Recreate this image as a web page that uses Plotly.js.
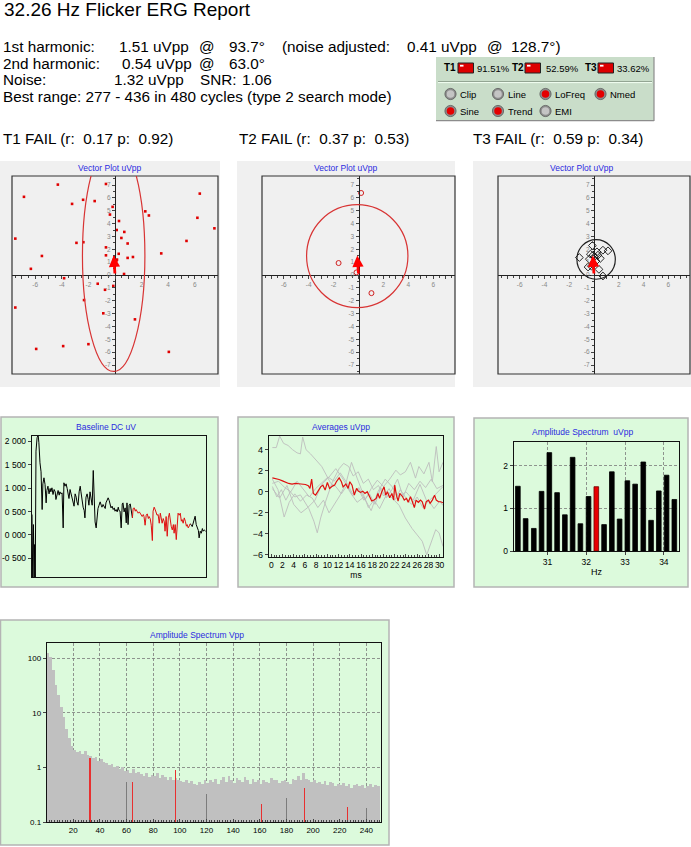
<!DOCTYPE html>
<html><head><meta charset="utf-8">
<script src="https://cdn.plot.ly/plotly-3.0.1.min.js"></script>
<style>html,body{margin:0;padding:0;background:#fff}#chart{width:691px;height:847px}</style>
</head><body><div id="chart"></div>
<script>
// ================= DATA =================
// report text
const reportTitle = '32.26 Hz Flicker ERG Report';
const harmonic1 = ['1st harmonic:', '1.51 uVpp', '@', '93.7°', '(noise adjusted:', '0.41 uVpp', '@', '128.7°)'];
const harmonic2 = ['2nd harmonic:', '0.54 uVpp', '@', '63.0°'];
const noiseRow  = ['Noise:', '1.32 uVpp', 'SNR:', '1.06'];
const bestRange = 'Best range: 277 - 436 in 480 cycles (type 2 search mode)';
const testRows  = ['T1 FAIL (r:\u00a0 0.17 p:\u00a0 0.92)', 'T2 FAIL (r:\u00a0 0.37 p:\u00a0 0.53)', 'T3 FAIL (r:\u00a0 0.59 p:\u00a0 0.34)'];

// status panel
const statusTests = ['T1', 'T2', 'T3'];
const statusPct = ['91.51%', '52.59%', '33.62%'];
const flagNames = ['Clip', 'Line', 'LoFreq', 'Nmed', 'Sine', 'Trend', 'EMI'];
const flagOn    = [false, false, true, true, true, true, false];

// vector plots (uVpp)
const meanVector = [-0.097, 1.507];
const t1X = [-4.3,-6.85,-3.23,-2.4,-1.53,-0.68,-0.18,-0.38,2.28,2.55,6.38,6.2,7.48,0.3,0.13,0.7,0.48,0.95,5.38,3.48,-7.5,-2.9,-2.38,-0.68,-0.68,0.28,0.95,1.35,-5.5,-6.33,-3.83,0.68,-1.3,-0.75,-0.13,-2.33,-0.88,1.5,-7.5,-5.93,-3.9,-2.0,4.05,0.1,-0.05,0.15];
const t1Y = [7.03,6.08,5.53,5.85,5.75,7.08,5.3,4.7,4.95,4.63,6.33,4.45,3.63,4.2,3.5,3.35,2.88,2.45,2.65,1.68,2.83,2.5,2.55,2.15,1.53,1.65,1.33,1.4,1.48,0.48,-0.25,0.08,-0.68,-1.15,-0.85,-1.95,-2.98,-3.45,-2.53,-5.75,-5.53,-5.38,-5.98,1.1,1.4,1.2];
const t1Ellipse = [-0.1, 1.5, 2.35, 9.0];   // cx, cy, rx, ry
const t2X = [0.21, -1.6, 1.04, -0.16];
const t2Y = [6.38, 0.93, -1.41, 0.2];
const t2Ellipse = [-0.1, 1.47, 4.07, 4.0];
const t3X = [-0.13,-0.29,0.24,0.72,1.13,-1.18,-0.38,0.03,0.32,0.51,0.16,-0.48,-0.21,0.4,-0.03,0.72,-0.08];
const t3Y = [2.29,1.62,1.8,1.93,1.88,1.36,1.23,1.41,1.54,1.29,1.08,0.62,0.69,0.44,0.85,-0.08,1.54];
const t3Ellipse = [0.17, 1.21, 1.55, 1.54];
const vecTickVals = [-7,-6,-5,-4,-3,-2,-1,0,1,2,3,4,5,6,7];
const vecXText = ['','-6','','-4','','-2','','','','2','','4','','6',''];
const vecYText = ['-7','-6','-5','-4','-3','-2','-1','0','1','2','3','4','5','6','7'];

// baseline DC (uV) per cycle
const baseCycle = [0,2,4,6,7,9,11,14,17,19,22,25,28,30,33,36,39,41,44,47,50,52,55,58,61,64,66,69,72,75,77,80,83,86,88,91,94,97,99,102,105,108,111,113,116,119,122,124,127,130,133,135,138,141,144,146,149,152,155,157,160,163,166,169,171,174,177,180,182,185,188,191,193,196,199,202,204,207,210,213,216,218,221,224,227,229,232,235,238,240,243,246,249,251,254,257,260,262,265,268,271,274,277,
 279,282,285,287,290,293,296,298,301,304,307,309,312,315,318,321,323,326,329,332,334,337,340,343,345,348,351,354,356,359,362,365,367,370,373,376,379,381,384,387,390,392,395,398,401,403,406,409,412,414,417,420,423,426,428,431,434,436,
 439,442,445,448,450,453,456,459,461,464,467,470,472,475,479];
const baseUV = [436,-950,221,-950,-207,-950,1792,2078,2135,1971,1542,1349,543,1092,1221,1078,685,950,1042,878,992,921,1007,864,971,921,757,878,950,850,921,878,900,150,1114,1042,1092,992,900,778,971,864,757,664,614,878,807,707,635,921,1042,921,735,593,521,364,807,878,757,635,921,735,635,1378,828,278,150,400,564,635,707,635,593,650,614,564,685,757,793,735,664,578,614,543,578,507,543,493,593,521,507,150,664,685,493,578,257,685,221,635,664,521,364,
 564,578,507,543,507,464,493,464,436,393,436,393,207,421,450,350,393,350,207,-121,507,593,536,464,421,436,250,464,364,250,350,278,79,393,-29,364,464,293,186,107,221,36,221,-100,364,464,421,464,293,328,250,364,293,186,221,150,193,236,
 221,178,278,364,400,221,136,93,-64,79,36,136,79,107,79];
const bestRangeCycles = [277, 436];
const baseTickVals = [2000, 1500, 1000, 500, 0, -500];
const baseTickText = ['2 000', '1 500', '1 000', '0 500', '0 000', '-0 500'];

// averages (uVpp vs ms)
const avgMs = [0.2,0.8,1.4,2.0,2.6,3.1,3.7,4.3,4.9,5.5,6.1,6.6,6.9,7.2,7.5,7.9,8.4,8.8,9.2,9.6,10.0,10.4,10.9,11.3,11.6,12.1,12.5,12.8,13.3,13.7,14.0,14.4,14.8,15.2,15.5,15.9,16.3,16.7,17.1,17.5,17.9,18.3,18.7,19.0,19.3,19.7,20.1,20.4,20.7,21.1,21.5,21.8,22.0,22.3,22.6,22.9,23.4,23.7,24.1,24.4,24.8,25.1,25.5,25.8,26.2,26.6,26.9,27.3,27.6,28.0,28.3,28.7,29.1,29.4,29.8,30.2,30.6];
const avgUV = [1.32,1.26,1.17,1.04,0.88,0.79,0.73,0.79,0.76,0.73,0.69,0.57,0.32,1.2,-0.16,-0.32,0.06,0.47,0.63,0.16,0.88,0.32,0.54,0.63,0.95,1.32,0.95,0.47,0.73,0.32,0.95,0.63,-0.32,0.32,0.06,-0.06,0.06,-0.16,0,-0.47,-0.88,-0.79,-0.63,-0.16,-0.63,0,0.47,-0.32,0,-0.57,-0.16,-0.79,0.63,-0.32,-0.88,-0.16,-0.47,-0.79,-0.63,-1.0,-0.47,-0.88,-1.51,-0.79,-1.0,-0.79,-0.95,-1.64,-0.95,-0.79,-1.1,-0.79,-0.32,-0.79,-0.95,-0.95,-1.05];
const subAMs = [0.2,0.9,1.5,2.2,3.0,3.8,4.6,5.2,5.6,6.2,7.0,8.0,9.0,9.8,10.6,11.5,12.5,13.5,14.5,15.5,16.5,17.5,18.5,19.5,20.5,21.5,22.5,23.5,24.5,25.5,26.5,27.5,28.5,29.5,30.6];
const subAUV = [4.2,4.2,5.3,4.6,4.4,4.0,3.7,3.6,5.2,4.0,3.6,3.0,2.4,1.6,0.8,0.5,-0.2,0.6,-0.4,0.3,-0.8,-0.2,-1.2,0.4,-0.6,0.2,1.2,-0.5,0.8,0.2,1.0,0.4,1.2,0.3,0.6];
const subBMs = [0.2,1.0,1.8,2.6,3.4,4.2,5.2,6.0,6.7,7.6,8.2,8.8,9.7,10.9,12.1,12.9,13.8,14.6,15.5,16.4,17.3,18.2,19.1,20.0,21.0,22.0,23.0,24.0,25.0,26.0,27.0,28.0,29.0,30.0,30.6];
const subBUV = [0.5,-0.5,0.2,-0.8,0.0,-0.5,-0.3,-1.0,-1.6,-2.8,-3.9,-2.5,-0.9,0.95,2.2,2.7,2.4,1.5,1.9,0.8,1.2,0.2,0.6,-0.4,0.3,-0.8,0.2,-0.6,-1.2,-0.5,-1.5,-0.8,-1.6,-0.9,-1.3];
const subCMs = [0.2,1.2,2.3,3.2,4.2,5.2,6.3,7.3,8.3,9.3,10.3,11.3,12.3,13.3,14.3,15.3,16.3,17.3,18.3,19.3,20.3,21.0,21.9,22.8,23.9,25.1,26.0,26.9,27.7,28.4,29.3,29.9,30.6];
const subCUV = [1.2,0.2,-2.4,-1.0,-0.2,-0.9,-0.3,-0.6,-1.5,-0.8,-2.0,-1.2,-0.3,0.8,2.8,1.3,-0.2,-1.5,-0.8,-1.6,-0.5,-0.3,-0.8,-1.3,-2.5,-3.5,-4.1,-4.7,-6.0,-5.0,-3.6,-3.9,-5.2];
const subDMs = [0.2,1.3,2.4,3.5,4.6,5.7,6.8,7.9,9.0,10.1,11.2,12.3,13.4,14.5,15.6,16.7,17.8,18.9,20.0,21.1,22.2,23.0,23.9,24.8,25.7,26.3,27.2,28.1,28.7,29.4,29.9,30.6];
const subDUV = [0.8,1.0,0.4,0.0,1.0,0.2,-0.5,0.3,0.9,1.4,1.0,1.8,0.9,-0.2,0.4,-0.8,0.3,1.1,0.5,1.2,2.05,1.6,1.9,2.8,1.3,2.4,1.7,2.8,0.95,4.3,1.9,2.8];
const subEMs = [0.2,1.5,2.8,4.0,5.3,6.5,7.8,9.0,10.3,11.5,12.8,14.0,15.3,16.5,17.8,19.0,20.3,21.5,22.8,24.0,25.3,26.5,27.8,29.0,30.6];
const subEUV = [0.3,-0.6,0.6,-1.2,-2.0,-1.5,-0.8,0.7,1.4,2.2,1.2,0.0,-1.0,-0.5,-1.8,0.0,1.2,0.5,-0.5,0.0,-0.8,0.7,-1.0,-0.4,0.5];

// amplitude spectrum around the stimulus (uVpp)
const nearHz = [30.24,30.44,30.65,30.85,31.05,31.25,31.45,31.65,31.85,32.06,32.26,32.46,32.66,32.86,33.06,33.26,33.47,33.67,33.87,34.07,34.27];
const nearUVpp = [1.52,0.76,0.53,1.40,2.31,1.37,0.85,2.20,0.64,1.28,1.51,0.62,1.86,0.75,1.65,1.57,2.09,0.72,1.41,1.78,1.21];
const stimulusHz = 32.26;

// full amplitude spectrum (Vpp), 2 Hz bins starting at 1 Hz
const fullStartHz = 1, fullBinHz = 2;
const fullVpp = [125,105,60,33,21,13,8.5,5.0,3.4,2.5,2.1,1.9,2.0,1.8,2.0,1.7,1.6,1.5,1.55,1.3,1.45,1.25,1.2,1.1,1.15,1.0,1.05,0.92,1.0,0.85,0.9,0.8,0.95,0.78,0.82,0.75,0.7,0.8,0.68,0.72,0.7,0.78,0.64,0.72,0.66,0.6,0.68,0.58,0.65,0.6,0.57,0.55,0.6,0.52,0.56,0.5,0.48,0.55,0.5,0.58,0.52,0.6,0.55,0.62,0.5,0.58,0.66,0.55,0.7,0.6,0.52,0.65,0.58,0.55,0.68,0.6,0.5,0.62,0.55,0.58,0.5,0.6,0.55,0.52,0.65,0.58,0.6,0.52,0.56,0.6,0.55,0.5,0.62,0.58,0.7,0.6,0.78,0.62,0.58,0.55,0.6,0.52,0.55,0.5,0.56,0.48,0.55,0.52,0.45,0.5,0.48,0.52,0.45,0.5,0.42,0.48,0.5,0.45,0.48,0.42,0.46,0.5,0.44,0.48,0.45];
const harmonicHz = [32.26, 64.52, 96.78, 161.3, 193.56, 225.82];
const harmonicVpp = [1.51, 0.54, 0.9, 0.21, 0.42, 0.19];
const mainsHz = [60, 120, 180, 240];
const mainsVpp = [0.54, 0.33, 0.27, 0.18];
const fullTickVals = [20,40,60,80,100,120,140,160,180,200,220,240];
const logTickVals = [0.1, 1, 10, 100];
const logTickText = ['0.1', '1', '10', '100'];

// ================= LAYOUT HELPERS =================
const W = 691, H = 847;
const fx = x => x / W;
const fy = y => 1 - y / H;
const FONT = 'Arial, "Liberation Sans", sans-serif';
const BLUE = '#2b2be0';
const GREEN = '#dcfadc';
const zeroPos = (dom, rng) => dom[0] + (0 - rng[0]) / (rng[1] - rng[0]) * (dom[1] - dom[0]);

const shapes = [];
const annotations = [];
function prect(x0, y0, x1, y1, fill, line, lw, layer) {
  shapes.push({type:'rect', xref:'paper', yref:'paper', x0:fx(x0), x1:fx(x1), y0:fy(y1), y1:fy(y0),
    fillcolor: fill, line:{color: line || 'rgba(0,0,0,0)', width: lw || 0}, layer: layer || 'below'});
}
function pcircle(cx, cy, r, fill, line, lw) {
  shapes.push({type:'circle', xref:'paper', yref:'paper', x0:fx(cx-r), x1:fx(cx+r), y0:fy(cy+r), y1:fy(cy-r),
    fillcolor: fill, line:{color: line || 'rgba(0,0,0,0)', width: lw || 0}, layer:'above'});
}
function pline(x0, y0, x1, y1, color, w) {
  shapes.push({type:'line', xref:'paper', yref:'paper', x0:fx(x0), x1:fx(x1), y0:fy(y0), y1:fy(y1), line:{color, width:w}, layer:'above'});
}
function txt(text, x, y, size, opts) {
  annotations.push(Object.assign({xref:'paper', yref:'paper', x:fx(x), y:fy(y), xanchor:'left', yanchor:'middle',
    text, showarrow:false, borderpad:0, font:{family:FONT, size, color:'#000'}}, opts || {}));
}
function ctitle(text, x, y, size) {
  txt(text, x, y, size || 8.5, {xanchor:'center', font:{family:FONT, size: size || 8.5, color: BLUE}});
}

// ----- header text -----
txt(reportTitle, 3, 9, 19);
const hs = 15.3;
[1.5, 118, 198, 228, 280.5, 406, 486, 510].forEach((x, i) => txt(harmonic1[i], x, 47, hs));
[1.5, 121, 198, 228.5].forEach((x, i) => txt(harmonic2[i], x, 63.5, hs));
[1.5, 113, 199, 241].forEach((x, i) => txt(noiseRow[i], x, 80, hs));
txt(bestRange, 1.5, 96.5, hs);
[1.5, 237.5, 472].forEach((x, i) => txt(testRows[i], x, 138.5, hs));

// ----- status panel -----
prect(436, 57, 654, 120, '#c9ddc9');
pline(654, 57, 654, 121, '#8c8c8c', 1.2);
pline(436, 120.6, 654, 120.6, '#8c8c8c', 1.2);
pline(438, 81.5, 652, 81.5, '#93a593', 1);
pline(438, 82.6, 652, 82.6, '#f2fff2', 1);
const testLabelX = [443, 510.5, 584];
const buttonX = [458, 525, 598];
const pctX = [476, 544.5, 616];
statusTests.forEach((t, i) => {
  txt('<b>' + t + '</b>', testLabelX[i], 68, 10);
  prect(buttonX[i], 63, buttonX[i] + 15.5, 73, '#dd0000', '#222', 1, 'above');
  prect(buttonX[i] + 2, 64.8, buttonX[i] + 5.5, 66.6, '#ffffff', null, 0, 'above');
  txt(statusPct[i], pctX[i], 68.5, 9.5);
});
const ledX = [450.5, 498, 545.5, 600.5, 450.5, 498, 545.5];
const ledY = [94, 94, 94, 94, 111, 111, 111];
flagNames.forEach((n, i) => {
  pcircle(ledX[i], ledY[i], 5.6, '#8d8d8d', '#5a5a5a', 0.8);
  pcircle(ledX[i], ledY[i], 3.8, flagOn[i] ? '#e40000' : '#c4c4c4', null, 0);
  txt(n, ledX[i] + 8.5, ledY[i] + 0.5, 9.5);
});

// ----- panels -----
[[0, 220], [237, 455], [473, 691]].forEach(p => prect(p[0], 161, p[1], 387, '#f0f0f0'));
prect(1, 417, 218, 587, GREEN, '#b4b4b4', 1.5);
prect(238, 417, 454, 587, GREEN, '#b4b4b4', 1.5);
prect(474, 418, 688, 587, GREEN, '#b4b4b4', 1.5);
prect(0.5, 620, 389, 845, GREEN, '#b4b4b4', 1.5);

ctitle('Vector Plot uVpp', 109.5, 168);
ctitle('Vector Plot uVpp', 346, 168);
ctitle('Vector Plot uVpp', 582, 168);
ctitle('Baseline DC uV', 106, 427);
ctitle('Averages uVpp', 341, 427);
ctitle('Amplitude Spectrum\u00a0 uVpp', 582, 432);
ctitle('Amplitude Spectrum Vpp', 196.5, 635);

// ================= AXES =================
const vecXR = [-7.75, 7.75], vecYR = [-7.7, 7.7];
const vecYD = [fy(374), fy(176)];
const vecXD = [[fx(12), fx(218)], [fx(262), fx(455)], [fx(498), fx(690)]];
const layout = {
  width: W, height: H, margin:{l:0, r:0, t:0, b:0},
  paper_bgcolor:'#ffffff', plot_bgcolor:'rgba(0,0,0,0)',
  showlegend:false, barmode:'overlay', bargap:0,
  font:{family:FONT, color:'#000'},
  shapes, annotations
};
const ellipses = [t1Ellipse, t2Ellipse, t3Ellipse];
const ellColors = ['#d83434', '#d83434', '#202020'];
['', '2', '3'].forEach((s, i) => {
  layout['xaxis' + s] = {domain: vecXD[i], range: vecXR, anchor:'free', position: zeroPos(vecYD, vecYR),
    showline:true, linecolor:'#222', linewidth:1, zeroline:false, showgrid:false,
    tickmode:'array', tickvals: vecTickVals, ticktext: vecXText, ticks:'outside', ticklen:3, tickcolor:'#444', tickwidth:1,
    minor:{dtick:0.5, tick0:0, ticks:'outside', ticklen:2, tickcolor:'#444'},
    tickfont:{size:6.5, color:'#888'}, fixedrange:true};
  layout['yaxis' + s] = {domain: vecYD, range: vecYR, anchor:'free', position: zeroPos(vecXD[i], vecXR),
    showline:true, linecolor:'#222', linewidth:1, zeroline:false, showgrid:false,
    tickmode:'array', tickvals: vecTickVals, ticktext: vecYText, ticks:'outside', ticklen:3, tickcolor:'#444', tickwidth:1,
    minor:{dtick:0.5, tick0:0, ticks:'outside', ticklen:2, tickcolor:'#444'},
    tickfont:{size:6.5, color:'#888'}, fixedrange:true};
  const xr = 'x' + s, yr = 'y' + s, e = ellipses[i];
  shapes.push({type:'rect', xref: xr + ' domain', yref: yr + ' domain', x0:0, x1:1, y0:0, y1:1, line:{color:'#333', width:1.2}, layer:'above'});
  shapes.push({type:'circle', xref: xr, yref: yr, x0: e[0] - e[2], x1: e[0] + e[2], y0: e[1] - e[3], y1: e[1] + e[3],
    line:{color: ellColors[i], width:1.2}, layer:'above'});
  annotations.push({xref: xr, yref: yr, axref: xr, ayref: yr, x: meanVector[0], y: meanVector[1], ax: 0, ay: 0,
    text:'', showarrow:true, arrowhead:2, arrowsize:0.8, arrowwidth:2.8, arrowcolor:'#ff0000'});
});

const frameAxis = {showline:true, mirror:true, linecolor:'#111', linewidth:1.2, zeroline:false, fixedrange:true};
layout.xaxis4 = Object.assign({}, frameAxis, {domain:[fx(32), fx(206)], range:[0, 480], anchor:'y4', showticklabels:false, ticks:'', showgrid:false});
layout.yaxis4 = Object.assign({}, frameAxis, {domain:[fy(577), fy(436)], range:[-900, 2115], anchor:'x4', showgrid:false,
  tickmode:'array', tickvals: baseTickVals, ticktext: baseTickText, ticks:'outside', ticklen:3, tickfont:{size:8.5}});
layout.xaxis5 = Object.assign({}, frameAxis, {domain:[fx(269), fx(443)], range:[-0.4, 30.6], anchor:'y5', showgrid:false,
  dtick:2, tick0:0, tickangle:0, ticks:'inside', ticklen:3, minor:{dtick:0.5, tick0:0, ticks:'inside', ticklen:2},
  tickfont:{size:8.5}, title:{text:'ms', font:{size:8.5}, standoff:2}});
layout.yaxis5 = Object.assign({}, frameAxis, {domain:[fy(557), fy(436)], range:[-6.2, 5.3], anchor:'x5', showgrid:false,
  dtick:2, tick0:0, ticks:'outside', ticklen:3, tickfont:{size:9}});
const dashGrid = {showgrid:true, gridcolor:'#7a7a7a', gridwidth:0.8, griddash:'3px,2px'};
layout.xaxis6 = Object.assign({}, frameAxis, dashGrid, {domain:[fx(514), fx(679)], range:[30.14, 34.39], anchor:'y6',
  tickvals:[31, 32, 33, 34], ticks:'outside', ticklen:3, tickfont:{size:8.5}, title:{text:'Hz', font:{size:9}, standoff:2}});
layout.yaxis6 = Object.assign({}, frameAxis, dashGrid, {domain:[fy(551), fy(442)], range:[0, 2.56], anchor:'x6',
  tickvals:[0, 1, 2], ticks:'outside', ticklen:3, tickfont:{size:8.5}});
layout.xaxis7 = Object.assign({}, frameAxis, dashGrid, {domain:[fx(47), fx(381)], range:[0.3, 251], anchor:'y7',
  tickvals: fullTickVals, ticks:'inside', ticklen:3, minor:{dtick:2, tick0:0, ticks:'inside', ticklen:2, showgrid:false},
  tickfont:{size:8}});
layout.yaxis7 = Object.assign({}, frameAxis, dashGrid, {domain:[fy(822), fy(643)], type:'log', range:[-1, 2.28], anchor:'x7',
  tickvals: logTickVals, ticktext: logTickText, ticks:'outside', ticklen:3, tickfont:{size:8}});

// ================= TRACES =================
const traces = [];
traces.push({type:'scatter', mode:'markers', x:t1X, y:t1Y, xaxis:'x', yaxis:'y',
  marker:{symbol:'square', size:2.6, color:'#e00000'}});
traces.push({type:'scatter', mode:'markers', x:t2X, y:t2Y, xaxis:'x2', yaxis:'y2',
  marker:{symbol:'circle-open', size:5, color:'#d02020', line:{width:1}}});
traces.push({type:'scatter', mode:'markers', x:t3X, y:t3Y, xaxis:'x3', yaxis:'y3',
  marker:{symbol:'diamond-open', size:6, color:'#111', line:{width:0.9}}});

// baseline: black outside best range, red inside
const pre = baseCycle.map((c, i) => i).filter(i => baseCycle[i] <= bestRangeCycles[0]);
const mid = baseCycle.map((c, i) => i).filter(i => baseCycle[i] >= bestRangeCycles[0] && baseCycle[i] <= bestRangeCycles[1]);
const post = baseCycle.map((c, i) => i).filter(i => baseCycle[i] >= bestRangeCycles[1]);
[[pre, '#000'], [post, '#000'], [mid, '#e01010']].forEach(([idx, col]) => {
  traces.push({type:'scatter', mode:'lines', x: idx.map(i => baseCycle[i]), y: idx.map(i => baseUV[i]),
    xaxis:'x4', yaxis:'y4', line:{color: col, width:1}});
});

// averages
[[subAMs, subAUV], [subBMs, subBUV], [subCMs, subCUV], [subDMs, subDUV], [subEMs, subEUV]].forEach(([x, y]) => {
  traces.push({type:'scatter', mode:'lines', x, y, xaxis:'x5', yaxis:'y5', line:{color:'#bdbdbd', width:0.9}});
});
traces.push({type:'scatter', mode:'lines', x: avgMs, y: avgUV, xaxis:'x5', yaxis:'y5', line:{color:'#e01010', width:1.2}});

// near-stimulus spectrum
traces.push({type:'bar', x: nearHz, y: nearUVpp, xaxis:'x6', yaxis:'y6', width:0.12,
  marker:{color: nearHz.map(h => h === stimulusHz ? '#e80000' : '#000'), line:{color: nearHz.map(h => h === stimulusHz ? '#700000' : '#000'), width:0.8}}});

// full spectrum
traces.push({type:'bar', x: fullVpp.map((v, i) => fullStartHz + i * fullBinHz), y: fullVpp, xaxis:'x7', yaxis:'y7',
  width: fullBinHz, marker:{color:'#c0c0c0', line:{width:0}}});
traces.push({type:'bar', x: mainsHz, y: mainsVpp, xaxis:'x7', yaxis:'y7', width:0.9, marker:{color:'#7c7c7c', line:{width:0}}});
traces.push({type:'bar', x: harmonicHz, y: harmonicVpp, xaxis:'x7', yaxis:'y7', width:1.4, marker:{color:'#e83030', line:{width:0}}});

Plotly.newPlot('chart', traces, layout, {staticPlot:true, displayModeBar:false});
</script></body></html>
